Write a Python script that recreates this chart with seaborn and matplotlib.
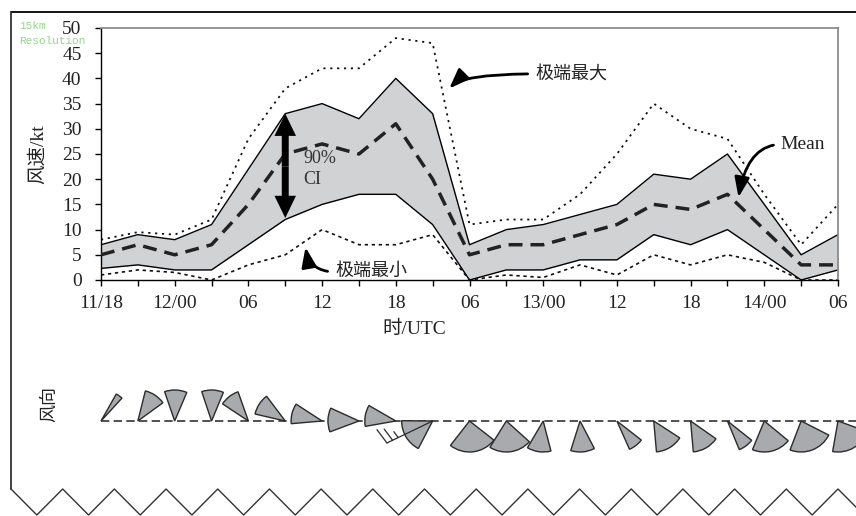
import numpy as np
import pandas as pd
import matplotlib
matplotlib.use('Agg')
import matplotlib.pyplot as plt
from matplotlib.patches import Wedge
from matplotlib.lines import Line2D
import seaborn as sns

# 3-hourly steps, 11/18 UTC -> 14/06 UTC
tick_text = ['11/18', '', '12/00', '', '06', '', '12', '', '18', '', '06', '',
             '13/00', '', '12', '', '18', '', '14/00', '', '06']
spd_mean = [5, 7, 5, 7, 15, 25, 27, 25, 31, 20, 5, 7, 7, 9, 11, 15, 14, 17, 10, 3, 3]
ci_hi = [7, 9, 8, 11, 22, 33, 35, 32, 40, 33, 7, 10, 11, 13, 15, 21, 20, 25, 15, 5, 9]
ci_lo = [2.3, 3, 2, 2, 7, 12, 15, 17, 17, 11, 0, 2, 2, 4, 4, 9, 7, 10, 5, 0, 2]
ext_max = [8, 9.5, 9, 12, 28, 38, 42, 42, 48, 47, 11, 12, 12, 17, 25, 35, 30, 28, 17, 7, 15]
ext_min = [1, 2, 1.5, 0, 3, 5, 10, 7, 7, 9, 0, 1, 0.5, 3, 1, 5, 3, 5, 3.5, 0, 0]

# wind direction sectors (centre angle, spread, degrees, counter-clockwise from east)
dir_centre = [54, 56, 88, 88, 128, 147, 166, 178, 170, 211, 277, 278, 262, 275,
              308, 301, 300, 307, 284, 291, 300]
dir_spread = [13, 40, 42, 41, 37, 40, 38, 45, 40, 63, 90, 80, 45, 45,
              28, 52, 50, 29, 73, 84, 80]

df = pd.DataFrame({'t': np.arange(len(spd_mean)), 'mean': spd_mean, 'hi': ci_hi,
                   'lo': ci_lo, 'emax': ext_max, 'emin': ext_min})

sns.set_style('ticks')
plt.rcParams['font.family'] = ['Liberation Serif', 'Noto Sans CJK SC']
plt.rcParams['axes.unicode_minus'] = False

W, H = 856, 516
fig = plt.figure(figsize=(W / 100, H / 100), dpi=100)
ax = fig.add_axes([101 / W, 1 - 280 / H, 737 / W, 252 / H])

ax.fill_between(df['t'], df['lo'], df['hi'], color='#d1d2d4', lw=0, zorder=1)
sns.lineplot(data=df, x='t', y='hi', ax=ax, color='k', lw=1.0, zorder=2)
sns.lineplot(data=df, x='t', y='lo', ax=ax, color='k', lw=1.0, zorder=2)
sns.lineplot(data=df, x='t', y='emax', ax=ax, color='#111111', lw=1.3,
             linestyle=(0, (1.2, 2.6)), zorder=2)
sns.lineplot(data=df, x='t', y='emin', ax=ax, color='#111111', lw=1.2,
             linestyle=(0, (2, 2.2)), zorder=2)
sns.lineplot(data=df, x='t', y='mean', ax=ax, color='#222222', lw=2.5,
             linestyle=(0, (4, 2.3)), zorder=3)

ax.set_xlim(0, 20)
ax.set_ylim(0, 50)
ax.set_xticks(df['t'])
ax.set_xticklabels(tick_text)
ax.set_yticks(range(0, 51, 5))
ax.tick_params(axis='both', direction='out', length=4, width=1, color='k',
               labelsize=14, labelcolor='#222222')
ax.tick_params(axis='y', pad=10)
ax.tick_params(axis='x', pad=7)
for s in ['left', 'bottom']:
    ax.spines[s].set_color('k')
    ax.spines[s].set_linewidth(1.0)
for s in ['top', 'right']:
    ax.spines[s].set_color('#8c8c8c')
    ax.spines[s].set_linewidth(1.3)
ax.grid(False)

ax.set_ylabel('风速/kt', fontsize=14, color='#222222')
ax.yaxis.set_label_coords(-0.073, 0.5)
ax.set_xlabel('时/UTC', fontsize=14, color='#222222')
ax.xaxis.set_label_coords(0.425, -0.16)

# 90% CI double arrow
for tip in (ci_hi[5], ci_lo[5] + 0.3):
    ax.annotate('', xy=(5, tip), xytext=(5, 22.5),
                arrowprops=dict(arrowstyle='simple,head_length=1.6,head_width=1.55,tail_width=0.5',
                                fc='k', ec='none', lw=0, mutation_scale=10,
                                shrinkA=0, shrinkB=0))
ax.text(5.5, 22.0, '90%\nCI', fontsize=13, color='#333333', va='center', ha='left',
        linespacing=1.3)

arrow_kw = dict(arrowstyle='-|>,head_length=0.8,head_width=0.3', color='k', lw=2.0,
                mutation_scale=15, shrinkA=3, shrinkB=0, relpos=(0, 0.5))
ax.annotate('极端最大', xy=(9.45, 38.0), xytext=(11.78, 40.9), fontsize=13,
            va='center', ha='left', color='#222222',
            arrowprops=dict(connectionstyle='angle3,angleA=0,angleB=45', **arrow_kw))
ax.annotate('Mean', xy=(17.3, 16.4), xytext=(18.45, 26.9), fontsize=14,
            va='center', ha='left', color='#222222',
            arrowprops=dict(connectionstyle='angle3,angleA=0,angleB=80', **arrow_kw))
ax.annotate('极端最小', xy=(5.55, 6.5), xytext=(6.35, 1.6), fontsize=13,
            va='center', ha='left', color='#222222',
            arrowprops=dict(connectionstyle='angle3,angleA=0,angleB=100', **arrow_kw))

# wind direction strip, same time axis, equal aspect
px = 737 / 20.0
wx = fig.add_axes([101 / W, 1 - 470 / H, 737 / W, 90 / H])
wx.set_xlim(0, 20)
wx.set_ylim(-(470 - 421) / px, (421 - 380) / px)
wx.axis('off')
wx.plot([0, 20.5], [0, 0], color='#333333', lw=1.2, linestyle=(0, (5, 2.6)),
        clip_on=False, zorder=1)
r = 31 / px
for i, (c, s) in enumerate(zip(dir_centre, dir_spread)):
    wx.add_patch(Wedge((i, 0), r, c - s / 2, c + s / 2, fc='#a9aaad', ec='#2b2b2b',
                       lw=1.0, zorder=3, clip_on=False))

# wind barb on the 12/21 sector
ang = np.deg2rad(205.7)
staff = 1.376
end = np.array([9 + staff * np.cos(ang), staff * np.sin(ang)])
wx.plot([9, end[0]], [0, end[1]], color='#2b2b2b', lw=0.9, zorder=4, clip_on=False)
bang = np.deg2rad(127)
for d, ln in [(staff, 0.45), (staff - 0.17, 0.38), (staff - 0.34, 0.2)]:
    p = np.array([9 + d * np.cos(ang), d * np.sin(ang)])
    wx.plot([p[0], p[0] + ln * np.cos(bang)], [p[1], p[1] + ln * np.sin(bang)],
            color='#2b2b2b', lw=0.9, zorder=4, clip_on=False)

fig.text(50 / W, 1 - 404 / H, '风向', rotation=90, fontsize=13, color='#222222',
         ha='center', va='center')
fig.text(19 / W, 1 - 21 / H, '15km\nResolution', color='#93d88b',
         family='Liberation Mono', fontsize=8, va='top', ha='left', linespacing=1.6)

# outer frame with torn bottom edge
fig.add_artist(Line2D([11 / W, 1], [1 - 12 / H] * 2, color='k', lw=1.3))
fig.add_artist(Line2D([11 / W, 11 / W], [1 - 12 / H, 1 - 489 / H], color='#333333', lw=1.3))
period = (838 - 11) / 16.0
zx = 11 + np.arange(0, 34) * period / 2
zy = np.where(np.arange(0, 34) % 2 == 0, 489, 515)
fig.add_artist(Line2D(zx / W, 1 - zy / H, color='#333333', lw=1.0))

fig.savefig('out.png', dpi=100)
